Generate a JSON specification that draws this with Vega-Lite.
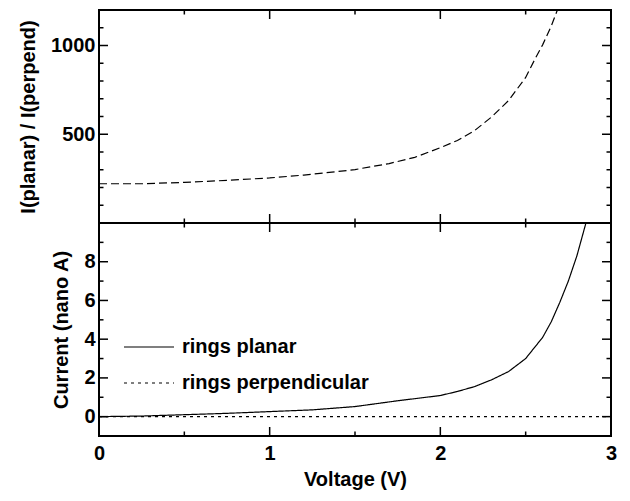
{
  "$schema": "https://vega.github.io/schema/vega-lite/v6.json",
  "padding": {"left": 17, "top": 9, "right": 5, "bottom": 5},
  "background": "white",
  "datasets": {
    "ratio": [
      {"V": 0.0, "R": 221}, {"V": 0.25, "R": 221}, {"V": 0.5, "R": 229}, {"V": 0.75, "R": 240},
      {"V": 1.0, "R": 254}, {"V": 1.2, "R": 270}, {"V": 1.4, "R": 290}, {"V": 1.5, "R": 301},
      {"V": 1.7, "R": 335}, {"V": 1.85, "R": 370}, {"V": 2.0, "R": 424}, {"V": 2.1, "R": 465},
      {"V": 2.2, "R": 520}, {"V": 2.3, "R": 597}, {"V": 2.4, "R": 690}, {"V": 2.5, "R": 820},
      {"V": 2.55, "R": 915}, {"V": 2.6, "R": 1005}, {"V": 2.65, "R": 1110}, {"V": 2.7, "R": 1235}
    ],
    "current": [
      {"V": 0.0, "I": 0.0, "series": "rings planar"},
      {"V": 0.25, "I": 0.03, "series": "rings planar"},
      {"V": 0.5, "I": 0.1, "series": "rings planar"},
      {"V": 0.75, "I": 0.17, "series": "rings planar"},
      {"V": 1.0, "I": 0.26, "series": "rings planar"},
      {"V": 1.25, "I": 0.35, "series": "rings planar"},
      {"V": 1.5, "I": 0.52, "series": "rings planar"},
      {"V": 1.75, "I": 0.82, "series": "rings planar"},
      {"V": 2.0, "I": 1.09, "series": "rings planar"},
      {"V": 2.1, "I": 1.3, "series": "rings planar"},
      {"V": 2.2, "I": 1.55, "series": "rings planar"},
      {"V": 2.3, "I": 1.9, "series": "rings planar"},
      {"V": 2.4, "I": 2.33, "series": "rings planar"},
      {"V": 2.5, "I": 3.0, "series": "rings planar"},
      {"V": 2.6, "I": 4.1, "series": "rings planar"},
      {"V": 2.65, "I": 4.9, "series": "rings planar"},
      {"V": 2.7, "I": 5.9, "series": "rings planar"},
      {"V": 2.75, "I": 7.0, "series": "rings planar"},
      {"V": 2.8, "I": 8.3, "series": "rings planar"},
      {"V": 2.85, "I": 9.9, "series": "rings planar"},
      {"V": 2.9, "I": 11.6, "series": "rings planar"},
      {"V": 0.0, "I": 0.0, "series": "rings perpendicular"},
      {"V": 0.5, "I": 0.0004, "series": "rings perpendicular"},
      {"V": 1.0, "I": 0.001, "series": "rings perpendicular"},
      {"V": 1.5, "I": 0.0017, "series": "rings perpendicular"},
      {"V": 2.0, "I": 0.0026, "series": "rings perpendicular"},
      {"V": 2.5, "I": 0.0037, "series": "rings perpendicular"},
      {"V": 3.0, "I": 0.005, "series": "rings perpendicular"}
    ],
    "xticks": [
      {"V": 0.5, "kind": "minor"}, {"V": 1, "kind": "major"}, {"V": 1.5, "kind": "minor"},
      {"V": 2, "kind": "major"}, {"V": 2.5, "kind": "minor"}
    ],
    "rticks": [
      {"R": 100, "kind": "minor"}, {"R": 200, "kind": "minor"}, {"R": 300, "kind": "minor"},
      {"R": 400, "kind": "minor"}, {"R": 500, "kind": "major"}, {"R": 600, "kind": "minor"},
      {"R": 700, "kind": "minor"}, {"R": 800, "kind": "minor"}, {"R": 900, "kind": "minor"},
      {"R": 1000, "kind": "major"}, {"R": 1100, "kind": "minor"}
    ],
    "iticks": [
      {"I": 0, "kind": "major"}, {"I": 1, "kind": "minor"}, {"I": 2, "kind": "major"},
      {"I": 3, "kind": "minor"}, {"I": 4, "kind": "major"}, {"I": 5, "kind": "minor"},
      {"I": 6, "kind": "major"}, {"I": 7, "kind": "minor"}, {"I": 8, "kind": "major"},
      {"I": 9, "kind": "minor"}
    ]
  },
  "vconcat": [
    {
      "width": 512,
      "height": 213,
      "layer": [
        {
          "data": {"name": "ratio"},
          "mark": {"type": "line", "color": "black", "strokeWidth": 1.2, "strokeDash": [8, 4], "clip": true},
          "encoding": {
            "x": {"field": "V", "type": "quantitative", "title": null,
              "scale": {"domain": [0, 3], "nice": false, "zero": false},
              "axis": {"labels": false, "ticks": false, "tickSize": 0}},
            "y": {"field": "R", "type": "quantitative", "title": "I(planar) / I(perpend)",
              "scale": {"domain": [0, 1200], "nice": false, "zero": false},
              "axis": {"values": [500, 1000], "format": "d", "ticks": false, "tickSize": 0,
                "labelPadding": 4, "titlePadding": 12}}
          }
        },
        {
          "data": {"name": "xticks"},
          "mark": {"type": "tick", "orient": "vertical", "color": "black", "opacity": 1, "thickness": 1.5, "clip": true},
          "encoding": {
            "x": {"field": "V", "type": "quantitative", "title": null},
            "y": {"datum": 0, "type": "quantitative"},
            "size": {"field": "kind", "type": "nominal", "scale": {"domain": ["major", "minor"], "range": [18, 9]}, "legend": null}
          }
        },
        {
          "data": {"name": "xticks"},
          "mark": {"type": "tick", "orient": "vertical", "color": "black", "opacity": 1, "thickness": 1.5, "clip": true},
          "encoding": {
            "x": {"field": "V", "type": "quantitative", "title": null},
            "y": {"datum": 1200, "type": "quantitative"},
            "size": {"field": "kind", "type": "nominal", "scale": {"domain": ["major", "minor"], "range": [18, 9]}, "legend": null}
          }
        },
        {
          "data": {"name": "rticks"},
          "mark": {"type": "tick", "orient": "horizontal", "color": "black", "opacity": 1, "thickness": 1.5, "clip": true},
          "encoding": {
            "y": {"field": "R", "type": "quantitative", "title": "I(planar) / I(perpend)"},
            "x": {"datum": 0, "type": "quantitative"},
            "size": {"field": "kind", "type": "nominal", "scale": {"domain": ["major", "minor"], "range": [18, 9]}, "legend": null}
          }
        },
        {
          "data": {"name": "rticks"},
          "mark": {"type": "tick", "orient": "horizontal", "color": "black", "opacity": 1, "thickness": 1.5, "clip": true},
          "encoding": {
            "y": {"field": "R", "type": "quantitative", "title": "I(planar) / I(perpend)"},
            "x": {"datum": 3, "type": "quantitative"},
            "size": {"field": "kind", "type": "nominal", "scale": {"domain": ["major", "minor"], "range": [18, 9]}, "legend": null}
          }
        }
      ]
    },
    {
      "width": 512,
      "height": 213,
      "layer": [
        {
          "data": {"name": "current"},
          "mark": {"type": "line", "color": "black", "strokeWidth": 1.2, "clip": true},
          "encoding": {
            "x": {"field": "V", "type": "quantitative", "title": "Voltage (V)",
              "scale": {"domain": [0, 3], "nice": false, "zero": false},
              "axis": {"values": [0, 1, 2, 3], "format": "d", "ticks": false, "tickSize": 0,
                "labelFlush": false, "labelPadding": 7, "titlePadding": 6}},
            "y": {"field": "I", "type": "quantitative", "title": "Current (nano A)",
              "scale": {"domain": [-1, 10], "nice": false, "zero": false},
              "axis": {"values": [0, 2, 4, 6, 8], "format": "d", "ticks": false, "tickSize": 0,
                "labelPadding": 4, "titlePadding": 12}},
            "strokeDash": {"field": "series", "type": "nominal",
              "scale": {"domain": ["rings planar", "rings perpendicular"], "range": [[1, 0], [3, 4]]},
              "legend": {"orient": "none", "legendX": 24, "legendY": 311, "title": null,
                "symbolType": "stroke", "symbolSize": 2500, "symbolStrokeColor": "black", "symbolStrokeWidth": 1.2,
                "labelFontSize": 20, "labelFont": "Liberation Sans", "labelFontWeight": "bold", "labelColor": "black",
                "labelOffset": 7, "labelLimit": 400, "rowPadding": -7, "padding": 0}}
          }
        },
        {
          "data": {"name": "xticks"},
          "mark": {"type": "tick", "orient": "vertical", "color": "black", "opacity": 1, "thickness": 1.5, "clip": true},
          "encoding": {
            "x": {"field": "V", "type": "quantitative", "title": "Voltage (V)"},
            "y": {"datum": -1, "type": "quantitative"},
            "size": {"field": "kind", "type": "nominal", "scale": {"domain": ["major", "minor"], "range": [18, 9]}, "legend": null}
          }
        },
        {
          "data": {"name": "xticks"},
          "mark": {"type": "tick", "orient": "vertical", "color": "black", "opacity": 1, "thickness": 1.5, "clip": true},
          "encoding": {
            "x": {"field": "V", "type": "quantitative", "title": "Voltage (V)"},
            "y": {"datum": 10, "type": "quantitative"},
            "size": {"field": "kind", "type": "nominal", "scale": {"domain": ["major", "minor"], "range": [18, 9]}, "legend": null}
          }
        },
        {
          "data": {"name": "iticks"},
          "mark": {"type": "tick", "orient": "horizontal", "color": "black", "opacity": 1, "thickness": 1.5, "clip": true},
          "encoding": {
            "y": {"field": "I", "type": "quantitative", "title": "Current (nano A)"},
            "x": {"datum": 0, "type": "quantitative"},
            "size": {"field": "kind", "type": "nominal", "scale": {"domain": ["major", "minor"], "range": [18, 9]}, "legend": null}
          }
        },
        {
          "data": {"name": "iticks"},
          "mark": {"type": "tick", "orient": "horizontal", "color": "black", "opacity": 1, "thickness": 1.5, "clip": true},
          "encoding": {
            "y": {"field": "I", "type": "quantitative", "title": "Current (nano A)"},
            "x": {"datum": 3, "type": "quantitative"},
            "size": {"field": "kind", "type": "nominal", "scale": {"domain": ["major", "minor"], "range": [18, 9]}, "legend": null}
          }
        }
      ]
    }
  ],
  "spacing": 0,
  "bounds": "flush",
  "config": {
    "font": "Liberation Sans",
    "view": {"stroke": "black", "strokeWidth": 2},
    "axis": {
      "domain": false, "grid": false,
      "labelFont": "Liberation Sans", "titleFont": "Liberation Sans",
      "labelFontSize": 20, "titleFontSize": 20,
      "labelFontWeight": "bold", "titleFontWeight": "bold",
      "labelColor": "black", "titleColor": "black"
    }
  }
}
